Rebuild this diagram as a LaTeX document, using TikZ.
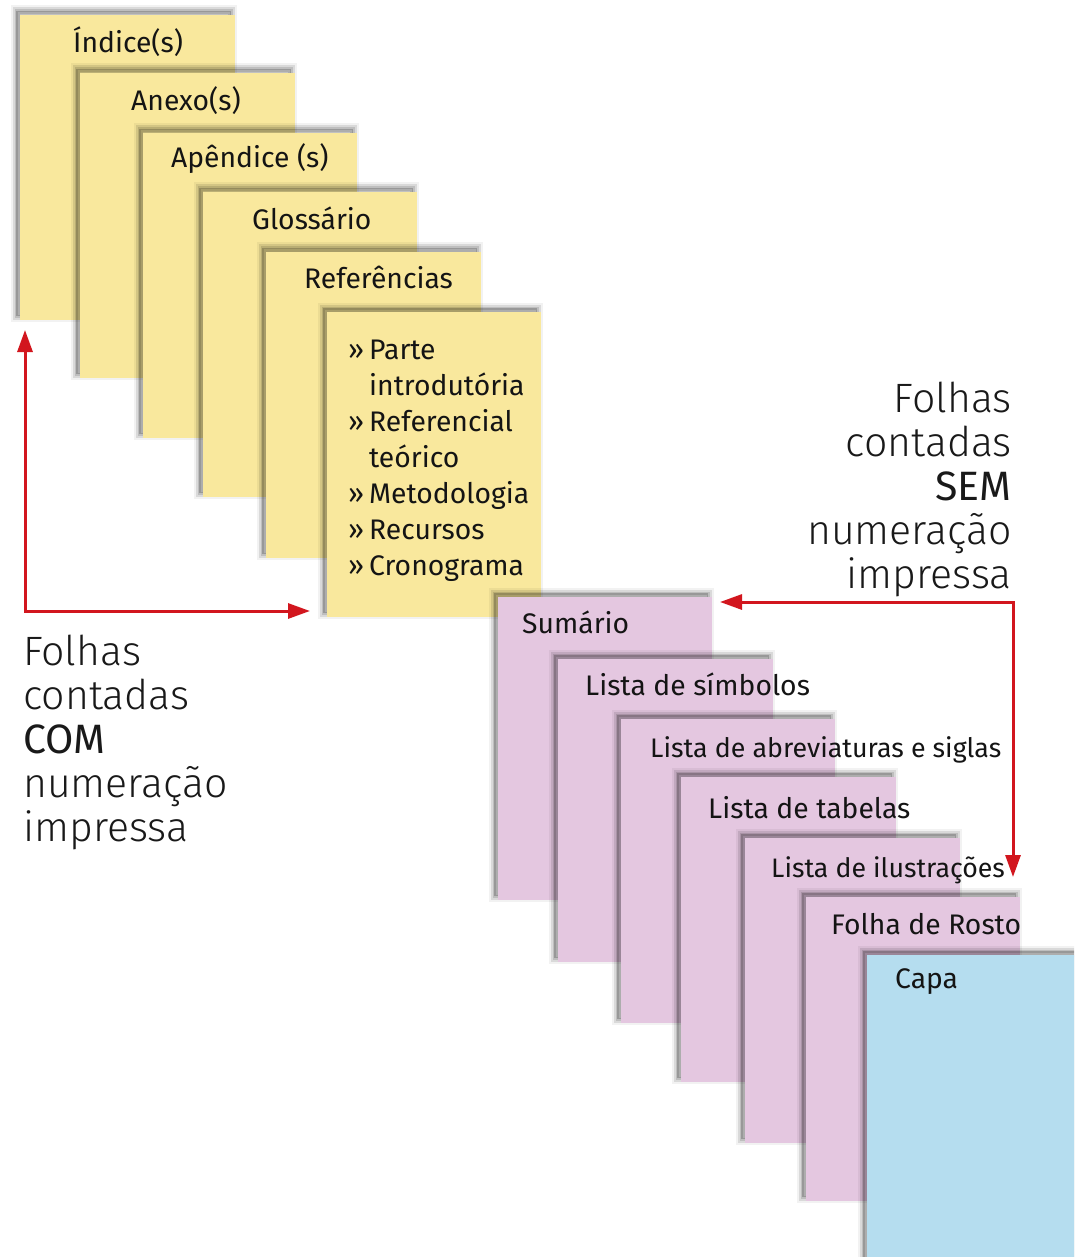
\documentclass[tikz,border=0pt]{standalone}
\usepackage{fontspec}
\setmainfont{Fira Sans}
\newfontfamily\lightfont{Fira Sans Light}
\usetikzlibrary{arrows.meta,calc}
\definecolor{yel}{HTML}{F9E89D}
\definecolor{pnk}{HTML}{E4C7E0}
\definecolor{blu}{HTML}{B5DDEF}
\definecolor{arr}{HTML}{D2161E}
\begin{document}
\begin{tikzpicture}[x=1pt,y=-1pt,
  sheet/.style={rectangle, inner sep=0pt, outer sep=0pt, anchor=north west,
    preaction={draw=black, opacity=0.05, line width=11pt, transform canvas={shift={(-4pt,4pt)}}},
    preaction={draw=black, opacity=0.10, line width=7pt, transform canvas={shift={(-4pt,4pt)}}},
    preaction={draw=black, opacity=0.12, line width=3pt, transform canvas={shift={(-4pt,4pt)}}},
    preaction={fill=black, opacity=0.20, transform canvas={shift={(-4pt,4pt)}}}},
  lbl/.style={anchor=base west, inner sep=0pt, font=\fontsize{28.3}{36}\selectfont, text=black!92},
  big/.style={anchor=base west, inner sep=0pt, font=\lightfont\fontsize{41}{44}\selectfont, text=black!90},
  redarrow/.style={draw=arr, line width=3pt, {Triangle[length=22pt,width=15pt]}-{Triangle[length=22pt,width=15pt]}}
]
\useasboundingbox (0,0) rectangle (1074,1257);
\clip (0,0) rectangle (1074,1257);
\fill[white] (0,0) rectangle (1074,1257);

% yellow sheets
\node[sheet, fill=yel, minimum width=215pt, minimum height=305pt] (indice) at (20,15) {};
\node[lbl] (tindice) at (73,53) {Índice(s)};
\node[sheet, fill=yel, minimum width=215pt, minimum height=305pt] (anexo) at (80,73) {};
\node[lbl] (tanexo) at (131,111) {Anexo(s)};
\node[sheet, fill=yel, minimum width=214pt, minimum height=305pt] (apendice) at (143,133) {};
\node[lbl] (tapendice) at (171,168) {Apêndice (s)};
\node[sheet, fill=yel, minimum width=214pt, minimum height=305pt] (glossario) at (203,192) {};
\node[lbl] (tglossario) at (252,230) {Glossário};
\node[sheet, fill=yel, minimum width=215pt, minimum height=306pt] (referencias) at (266,252) {};
\node[lbl] (treferencias) at (304,288) {Referências};
\node[sheet, fill=yel, minimum width=214pt, minimum height=305pt] (parte) at (327,312) {};
\node[lbl, align=left] (tparte) at (348,575) {\makebox[21pt][l]{»}Parte\\
  \hspace*{21pt}introdutória\\
  \makebox[21pt][l]{»}Referencial\\
  \hspace*{21pt}teórico\\
  \makebox[21pt][l]{»}Metodologia\\
  \makebox[21pt][l]{»}Recursos\\
  \makebox[21pt][l]{»}Cronograma};

% pink sheets
\node[sheet, fill=pnk, minimum width=214pt, minimum height=303pt] (sumario) at (498,597) {};
\node[lbl] (tsumario) at (522,633) {Sumário};
\node[sheet, fill=pnk, minimum width=215pt, minimum height=303pt] (simbolos) at (558,659) {};
\node[lbl] (tsimbolos) at (585,695) {Lista de símbolos};
\node[sheet, fill=pnk, minimum width=214pt, minimum height=304pt] (abrev) at (621,719) {};
\node[lbl, font=\fontsize{26.8}{30}\selectfont] (tabrev) at (650,757) {Lista de abreviaturas e siglas};
\node[sheet, fill=pnk, minimum width=215pt, minimum height=305pt] (tabelas) at (681,777) {};
\node[lbl] (ttabelas) at (708,818) {Lista de tabelas};
\node[sheet, fill=pnk, minimum width=215pt, minimum height=305pt] (ilustracoes) at (745,838) {};
\node[lbl, font=\fontsize{26.7}{30}\selectfont] (tilustracoes) at (771,877) {Lista de ilustrações};
\node[sheet, fill=pnk, minimum width=214pt, minimum height=304pt] (rosto) at (806,897) {};
\node[lbl] (trosto) at (831,934) {Folha de Rosto};
\node[sheet, fill=blu, minimum width=220pt, minimum height=320pt] (capa) at (867,955) {};
\node[lbl] (tcapa) at (895,988) {Capa};

% side labels
\node[big, align=left] (com) at (23,841) {Folhas\\contadas\\{\normalfont COM}\\numeração\\impressa};
\node[big, align=right, anchor=base east] (sem) at (1012,588) {Folhas\\contadas\\{\normalfont SEM}\\numeração\\impressa};

% arrows
\coordinate (lt) at ($(indice.south west)+(5,10)$);
\coordinate (lh) at (310,611);
\draw[redarrow] (lt) |- (lh);
\coordinate (rh) at (720,602);
\coordinate (rv) at (1013,877);
\draw[redarrow] (rh) -| (rv);
\end{tikzpicture}
\end{document}
